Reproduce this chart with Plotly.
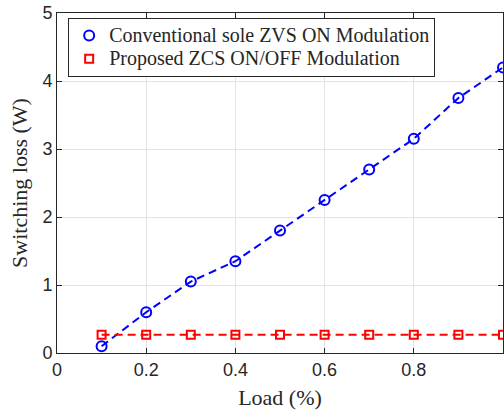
import plotly.graph_objects as go

# Load points (fraction of full load)
load = [0.1, 0.2, 0.3, 0.4, 0.5, 0.6, 0.7, 0.8, 0.9, 1.0]

# Switching loss in W for each modulation scheme
loss_conventional = [0.10, 0.60, 1.05, 1.35, 1.80, 2.25, 2.70, 3.15, 3.75, 4.20]
loss_proposed = [0.27, 0.27, 0.27, 0.27, 0.27, 0.27, 0.27, 0.27, 0.27, 0.27]

name_conventional = "Conventional sole ZVS ON Modulation"
name_proposed = "Proposed ZCS ON/OFF Modulation"

x_ticks = [0, 0.2, 0.4, 0.6, 0.8, 1]
x_ticklabels = ["0", "0.2", "0.4", "0.6", "0.8", "1"]
y_ticks = [0, 1, 2, 3, 4, 5]

BLUE = "#0000ff"
RED = "#ff0000"
INK = "#262626"
SERIF = "Liberation Serif, Times New Roman, serif"
SANS = "Liberation Sans, Arial, sans-serif"


def legend_label(text):
    # larger glyphs while the legend keeps its compact row spacing
    return f'<span style="font-size:20px">{text}</span>'


fig = go.Figure()

# dashed connecting lines (kept out of the legend)
for y, c in [(loss_conventional, BLUE), (loss_proposed, RED)]:
    fig.add_trace(go.Scatter(
        x=load, y=y, mode="lines", showlegend=False, hoverinfo="skip",
        line=dict(color=c, width=2, dash="8px,5px"),
    ))

# open markers, shown in the legend
fig.add_trace(go.Scatter(
    x=load, y=loss_conventional, mode="markers", name=legend_label(name_conventional),
    marker=dict(symbol="circle-open", size=10, color=BLUE, line=dict(width=2, color=BLUE)),
))
fig.add_trace(go.Scatter(
    x=load, y=loss_proposed, mode="markers", name=legend_label(name_proposed),
    marker=dict(symbol="square-open", size=8, color=RED, line=dict(width=2, color=RED)),
))

axis_common = dict(
    showline=True, linecolor=INK, linewidth=1, mirror="ticks",
    ticks="inside", ticklen=5, tickcolor=INK, tickwidth=1,
    showgrid=True, gridcolor="#e3e3e3", gridwidth=1, zeroline=False,
    tickfont=dict(family=SANS, size=18, color=INK),
)

fig.update_layout(
    width=504, height=413,
    margin=dict(l=57, r=1, t=13, b=60),
    paper_bgcolor="white", plot_bgcolor="white",
    xaxis=dict(
        range=[0, 1], tickvals=x_ticks, ticktext=x_ticklabels,
        title=dict(text="Load (%)", font=dict(family=SERIF, size=22, color=INK), standoff=11),
        **axis_common,
    ),
    yaxis=dict(
        range=[0, 5], tickvals=y_ticks,
        title=dict(text="Switching loss (W)", font=dict(family=SERIF, size=22, color=INK), standoff=8),
        **axis_common,
    ),
    legend=dict(
        x=0.025, y=0.985, xanchor="left", yanchor="top",
        bgcolor="white", bordercolor=INK, borderwidth=1,
        font=dict(family=SERIF, size=15.4, color=INK),
        tracegroupgap=0, itemwidth=30,
    ),
    showlegend=True,
)

fig.write_html("out.html")
